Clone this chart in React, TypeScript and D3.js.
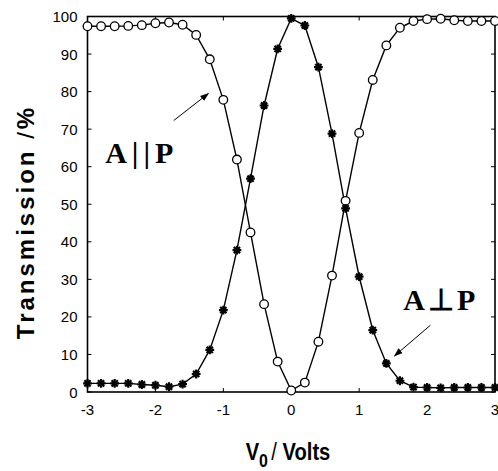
import React from 'react';
import * as d3 from 'd3';

const voltage = [
  -3, -2.8, -2.6, -2.4, -2.2, -2, -1.8, -1.6, -1.4, -1.2, -1, -0.8, -0.6, -0.4, -0.2, 0,
  0.2, 0.4, 0.6, 0.8, 1, 1.2, 1.4, 1.6, 1.8, 2, 2.2, 2.4, 2.6, 2.8, 3,
];
// A || P (circles)
const parallel = [
  97.4, 97.4, 97.4, 97.5, 97.7, 98.2, 98.4, 97.8, 95.1, 88.6, 77.8, 61.9, 42.5, 23.4, 8.1, 0.4,
  2.5, 13.4, 31.0, 50.9, 69.0, 83.1, 92.3, 97.0, 98.8, 99.3, 99.4, 99.0, 98.8, 98.8, 98.8,
];
// A ⊥ P (stars)
const perpendicular = [
  2.3, 2.3, 2.3, 2.3, 2.0, 1.8, 1.4, 2.1, 4.8, 11.2, 21.8, 37.8, 56.8, 76.3, 91.4, 99.5,
  97.6, 86.5, 68.8, 48.9, 30.7, 16.5, 7.6, 3.0, 1.3, 1.2, 1.1, 1.2, 1.2, 1.2, 1.2,
];
const xTicks = [-3, -2, -1, 0, 1, 2, 3];
const yTicks = [0, 10, 20, 30, 40, 50, 60, 70, 80, 90, 100];

const W = 498;
const H = 471;
const margin = { top: 16.5, right: 3, bottom: 79, left: 87.5 };

export default function App() {
  const x = d3.scaleLinear().domain([-3, 3]).range([margin.left, W - margin.right]);
  const y = d3.scaleLinear().domain([0, 100]).range([H - margin.bottom, margin.top]);

  const line = d3
    .line<number>()
    .x((_, i) => x(voltage[i]))
    .y((d) => y(d));

  const star = (cx: number, cy: number) => {
    const r = 4.4;
    const d = r * 0.7071;
    return `M${cx},${cy - r}L${cx},${cy + r}M${cx - r},${cy}L${cx + r},${cy}` +
      `M${cx - d},${cy - d}L${cx + d},${cy + d}M${cx - d},${cy + d}L${cx + d},${cy - d}`;
  };

  const tickFont = { fontFamily: 'Liberation Sans, Arial, sans-serif', fontSize: 15 };
  const serif = 'Liberation Serif, Times New Roman, serif';
  const x0 = x.range()[0], x1 = x.range()[1];
  const yb = y.range()[0], yt = y.range()[1];

  return (
    <svg width={W} height={H} style={{ position: 'absolute', left: 0, top: 0, background: '#fff' }}>
      {/* frame */}
      <rect x={x0} y={yt} width={x1 - x0} height={yb - yt} fill="none" stroke="#000" strokeWidth={1.6} />
      {/* ticks, all inward */}
      {xTicks.map((t) => (
        <g key={'x' + t}>
          <line x1={x(t)} x2={x(t)} y1={yb} y2={yb - 4} stroke="#000" />
          <line x1={x(t)} x2={x(t)} y1={yt} y2={yt + 4} stroke="#000" />
          <text x={x(t)} y={yb + 23} textAnchor="middle" {...tickFont}>{t}</text>
        </g>
      ))}
      {yTicks.map((t) => (
        <g key={'y' + t}>
          <line x1={x0} x2={x0 + 4} y1={y(t)} y2={y(t)} stroke="#000" />
          <line x1={x1} x2={x1 - 4} y1={y(t)} y2={y(t)} stroke="#000" />
          <text x={x0 - 10} y={y(t) + 5.5} textAnchor="end" {...tickFont}>{t}</text>
        </g>
      ))}

      {/* series lines */}
      <path d={line(parallel) ?? ''} fill="none" stroke="#000" strokeWidth={1.4} />
      <path d={line(perpendicular) ?? ''} fill="none" stroke="#000" strokeWidth={1.4} />

      {parallel.map((v, i) => (
        <circle key={'c' + i} cx={x(voltage[i])} cy={y(v)} r={4.3} fill="#fff" stroke="#000" strokeWidth={1.3} />
      ))}
      {perpendicular.map((v, i) => (
        <path key={'s' + i} d={star(x(voltage[i]), y(v))} stroke="#000" strokeWidth={2.2} fill="none" />
      ))}

      {/* annotations */}
      <defs>
        <marker id="arr" viewBox="0 0 10 10" refX="9" refY="5" markerWidth="9" markerHeight="9" orient="auto">
          <path d="M0,1.5L10,5L0,8.5z" fill="#000" />
        </marker>
      </defs>
      <line x1={x(-1.73)} y1={y(72.3)} x2={x(-1.22)} y2={y(79.5)} stroke="#000" strokeWidth={1} markerEnd="url(#arr)" />
      <text x={x(-2.74)} y={y(61)} fontFamily={serif} fontWeight="bold" fontSize={30}>
        A<tspan dx={5}>|</tspan><tspan dx={5}>|</tspan><tspan dx={5}>P</tspan>
      </text>
      <line x1={x(2.05)} y1={y(17.8)} x2={x(1.52)} y2={y(9.6)} stroke="#000" strokeWidth={1} markerEnd="url(#arr)" />
      <text x={x(1.65)} y={y(21.8)} fontFamily={serif} fontWeight="bold" fontSize={30}>
        A<tspan dx={3}>⊥</tspan><tspan dx={3}>P</tspan>
      </text>

      {/* axis titles */}
      <text
        transform={`translate(34,222) rotate(-90)`}
        textAnchor="middle"
        fontFamily="Liberation Sans, Arial, sans-serif"
        fontWeight="bold"
        fontSize={24}
        letterSpacing={3}
      >
        Transmission <tspan fontWeight="normal">/</tspan>%
      </text>
      <text
        transform="translate(288,460) scale(0.84,1)"
        textAnchor="middle"
        fontFamily="Liberation Sans, Arial, sans-serif"
        fontWeight="bold"
        fontSize={24}
      >
        V<tspan dy={7} fontSize={19}>0</tspan><tspan dy={-7} dx={4} fontWeight="normal">/</tspan> Volts
      </text>
    </svg>
  );
}
